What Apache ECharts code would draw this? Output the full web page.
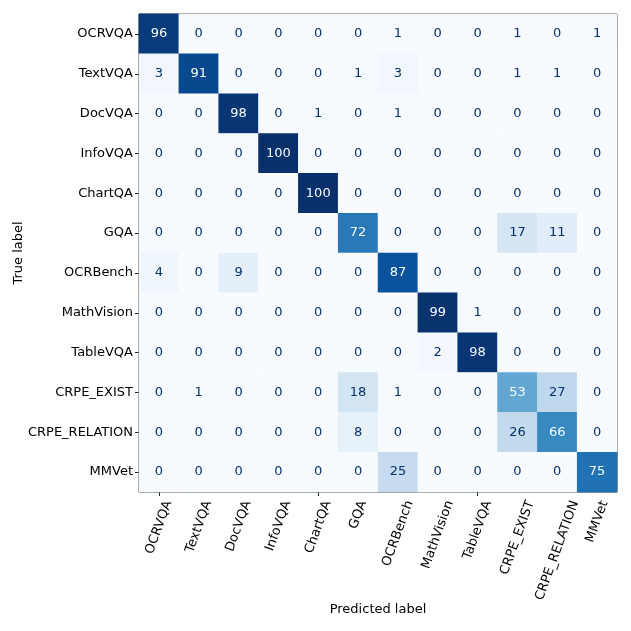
<!DOCTYPE html>
<html>
<head>
<meta charset="utf-8">
<script src="https://cdn.jsdelivr.net/npm/echarts@6/dist/echarts.min.js"></script>
<style>
    html, body {margin: 0; padding: 0; background: #fff;}
    #main {width: 631px; height: 631px;}
</style>
</head>
<body>
<div id="main"></div>
<script>
// class names, same order on both axes
const categories = ["OCRVQA", "TextVQA", "DocVQA", "InfoVQA", "ChartQA", "GQA",
    "OCRBench", "MathVision", "TableVQA", "CRPE_EXIST", "CRPE_RELATION", "MMVet"];

// confusion matrix rows: true label -> predicted counts
const rowOCRVQA = [96, 0, 0, 0, 0, 0, 1, 0, 0, 1, 0, 1];
const rowTextVQA = [3, 91, 0, 0, 0, 1, 3, 0, 0, 1, 1, 0];
const rowDocVQA = [0, 0, 98, 0, 1, 0, 1, 0, 0, 0, 0, 0];
const rowInfoVQA = [0, 0, 0, 100, 0, 0, 0, 0, 0, 0, 0, 0];
const rowChartQA = [0, 0, 0, 0, 100, 0, 0, 0, 0, 0, 0, 0];
const rowGQA = [0, 0, 0, 0, 0, 72, 0, 0, 0, 17, 11, 0];
const rowOCRBench = [4, 0, 9, 0, 0, 0, 87, 0, 0, 0, 0, 0];
const rowMathVision = [0, 0, 0, 0, 0, 0, 0, 99, 1, 0, 0, 0];
const rowTableVQA = [0, 0, 0, 0, 0, 0, 0, 2, 98, 0, 0, 0];
const rowCRPEExist = [0, 1, 0, 0, 0, 18, 1, 0, 0, 53, 27, 0];
const rowCRPERelation = [0, 0, 0, 0, 0, 8, 0, 0, 0, 26, 66, 0];
const rowMMVet = [0, 0, 0, 0, 0, 0, 25, 0, 0, 0, 0, 75];

const matrix = [rowOCRVQA, rowTextVQA, rowDocVQA, rowInfoVQA, rowChartQA, rowGQA,
    rowOCRBench, rowMathVision, rowTableVQA, rowCRPEExist, rowCRPERelation, rowMMVet];

const FONT = "DejaVu Sans";
const LABEL_SIZE = 13;
const BLUES = ["#f7fbff", "#deebf7", "#c6dbef", "#9ecae1", "#6baed6",
    "#4292c6", "#2171b5", "#08519c", "#08306b"];
const X_ROTATE = 70;

const cells = [];
matrix.forEach((row, i) => {
    row.forEach((v, j) => {
        cells.push({
            value: [j, i, v],
            label: {color: v > 50 ? "#f7fbff" : "#08306b"}
        });
    });
});

const chart = echarts.init(document.getElementById("main"), null, {renderer: "canvas"});

chart.setOption({
    animation: false,
    backgroundColor: "#fff",
    textStyle: {fontFamily: FONT},
    grid: {
        left: 139, top: 14, width: 478, height: 478,
        containLabel: false, outerBoundsMode: "none",
        show: true, borderColor: "#222", borderWidth: 1, backgroundColor: "transparent"
    },
    visualMap: {
        show: false,
        min: 0,
        max: 100,
        dimension: 2,
        inRange: {color: BLUES}
    },
    xAxis: {
        type: "category",
        data: categories,
        name: "Predicted label",
        nameLocation: "middle",
        nameGap: 111,
        nameMoveOverlap: false,
        nameTextStyle: {fontFamily: FONT, fontSize: 13, color: "#000"},
        axisLine: {show: false},
        axisTick: {show: true, alignWithLabel: true, length: 4, lineStyle: {color: "#222"}},
        axisLabel: {show: false},
        splitLine: {show: false}
    },
    yAxis: {
        type: "category",
        data: categories,
        inverse: true,
        name: "True label",
        nameLocation: "middle",
        nameGap: 114,
        nameMoveOverlap: false,
        nameTextStyle: {fontFamily: FONT, fontSize: 13, color: "#000"},
        axisLine: {show: false},
        axisTick: {show: true, alignWithLabel: true, length: 4, lineStyle: {color: "#222"}},
        axisLabel: {
            interval: 0, margin: 6,
            fontFamily: FONT, fontSize: LABEL_SIZE, color: "#000"
        },
        splitLine: {show: false}
    },
    series: [{
        type: "heatmap",
        data: cells,
        label: {
            show: true,
            fontFamily: FONT,
            fontSize: 13,
            formatter: (p) => String(p.value[2])
        },
        itemStyle: {borderWidth: 0},
        emphasis: {disabled: true}
    }]
});

// rotated x tick labels, centred under each tick (matplotlib style)
!function () {
    const ctx = document.createElement("canvas").getContext("2d");
    ctx.font = `${LABEL_SIZE}px "${FONT}"`;
    const rad = X_ROTATE * Math.PI / 180;
    const y0 = chart.convertToPixel({yAxisIndex: 0}, categories[0]);
    const y1 = chart.convertToPixel({yAxisIndex: 0}, categories[1]);
    const bottom = chart.convertToPixel({yAxisIndex: 0}, categories[categories.length - 1]) + (y1 - y0) / 2;
    const top = bottom + 7;
    const h = LABEL_SIZE;
    const texts = categories.map((name) => {
        const L = ctx.measureText(name).width;
        const boxH = L * Math.sin(rad) + h * Math.cos(rad);
        return {
            type: "text",
            x: chart.convertToPixel({xAxisIndex: 0}, name),
            y: top + boxH / 2,
            rotation: rad,
            silent: true,
            style: {
                text: name,
                fontFamily: FONT,
                fontSize: LABEL_SIZE,
                fill: "#000",
                align: "center",
                verticalAlign: "middle"
            }
        };
    });
    chart.setOption({graphic: texts});
}();
</script>
</body>
</html>
